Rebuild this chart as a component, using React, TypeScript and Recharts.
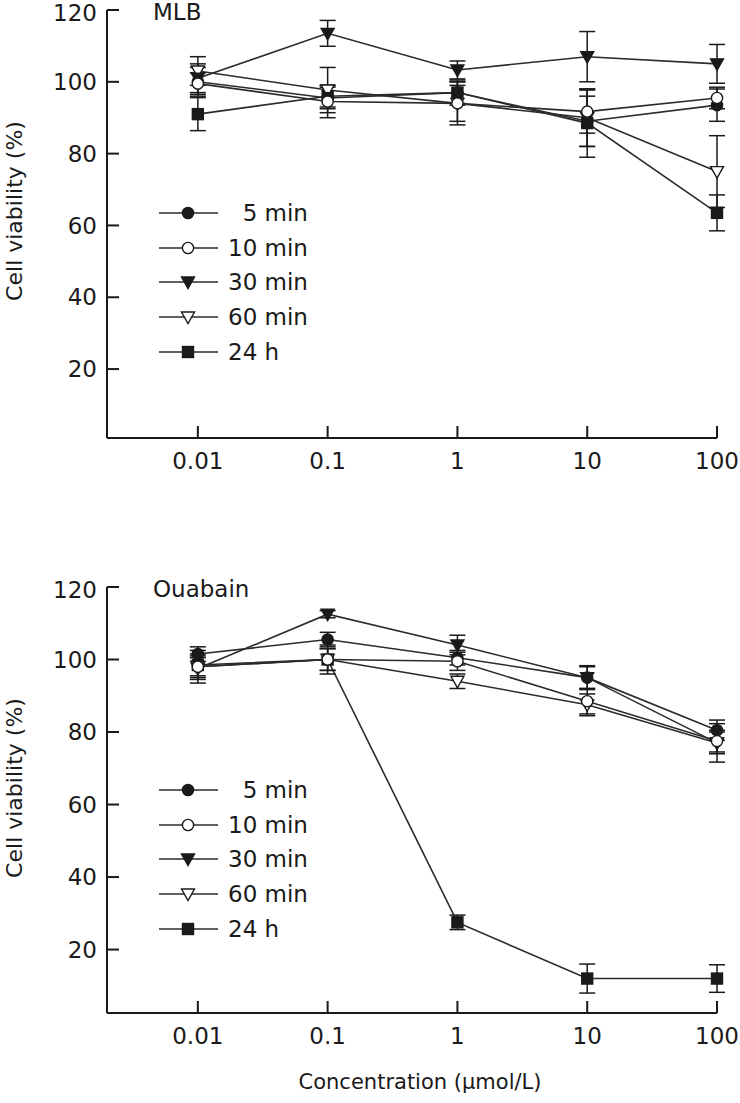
import React from "react";
import { LineChart, Line, XAxis, YAxis, ErrorBar, Legend } from "recharts";

const CONCENTRATIONS = [0.01, 0.1, 1, 10, 100];
const X_TICK_LABELS = ["0.01", "0.1", "1", "10", "100"];
const Y_TICKS = [20, 40, 60, 80, 100, 120];

// MLB panel
const MLB_5MIN = [100, 95.5, 97, 89, 93.5];
const MLB_5MIN_ERR = [4, 3, 3, 7, 4.5];
const MLB_10MIN = [99.5, 94.5, 94, 91.7, 95.5];
const MLB_10MIN_ERR = [3, 4.5, 6, 6, 3];
const MLB_30MIN = [101, 113.5, 103.3, 107, 105];
const MLB_30MIN_ERR = [4, 3.6, 2.5, 7, 5.4];
const MLB_60MIN = [103, 97.7, 94, 90, 75];
const MLB_60MIN_ERR = [4, 6.3, 5, 8, 10];
const MLB_24H = [91, 96, 97, 88.5, 63.5];
const MLB_24H_ERR = [4.6, 3, 3.5, 9.5, 5];

// Ouabain panel
const OUA_5MIN = [101.5, 105.5, 100.5, 95, 80.5];
const OUA_5MIN_ERR = [2, 2, 2, 3, 2.8];
const OUA_10MIN = [98, 100, 99.5, 88.5, 77.5];
const OUA_10MIN_ERR = [3, 3, 2.5, 3.5, 3];
const OUA_30MIN = [97.5, 112.5, 104, 95, 77];
const OUA_30MIN_ERR = [3, 1, 2.7, 3.3, 3];
const OUA_60MIN = [98, 100, 94, 87.5, 77];
const OUA_60MIN_ERR = [4.5, 4, 2, 3, 5.3];
const OUA_24H = [98.5, 100, 27.5, 12, 12];
const OUA_24H_ERR = [3, 3, 2, 4, 3.8];

const SERIES = [
  { key: "s5", label: "\u20075 min", marker: "circle" },
  { key: "s10", label: "10 min", marker: "ocircle" },
  { key: "s30", label: "30 min", marker: "tri" },
  { key: "s60", label: "60 min", marker: "otri" },
  { key: "s24", label: "24 h", marker: "square" },
];
const DRAW_ORDER = ["s24", "s60", "s30", "s5", "s10"];

const FONT = "'DejaVu Sans', sans-serif";
const INK = "#1a1a1a";
const LINE = "#2b2b2b";

function buildRows(vals: number[][], errs: number[][]) {
  return CONCENTRATIONS.map((c, i) => {
    const row: Record<string, number> = { lx: Math.log10(c) };
    SERIES.forEach((s, j) => {
      row[s.key] = vals[j][i];
      row["e" + s.key] = errs[j][i];
    });
    return row;
  });
}

const mlbData = buildRows(
  [MLB_5MIN, MLB_10MIN, MLB_30MIN, MLB_60MIN, MLB_24H],
  [MLB_5MIN_ERR, MLB_10MIN_ERR, MLB_30MIN_ERR, MLB_60MIN_ERR, MLB_24H_ERR]
);
const ouaData = buildRows(
  [OUA_5MIN, OUA_10MIN, OUA_30MIN, OUA_60MIN, OUA_24H],
  [OUA_5MIN_ERR, OUA_10MIN_ERR, OUA_30MIN_ERR, OUA_60MIN_ERR, OUA_24H_ERR]
);

function Marker({ kind, cx, cy }: { kind: string; cx: number; cy: number }) {
  if (cx == null || cy == null) return null;
  const sw = 1.4;
  switch (kind) {
    case "circle":
      return <circle cx={cx} cy={cy} r={5.6} fill={INK} stroke={INK} strokeWidth={sw} />;
    case "ocircle":
      return <circle cx={cx} cy={cy} r={5.6} fill="#fff" stroke={INK} strokeWidth={sw} />;
    case "tri":
    case "otri":
      return (
        <path
          d={`M${cx - 6.5},${cy - 5} L${cx + 6.5},${cy - 5} L${cx},${cy + 6.5} Z`}
          fill={kind === "tri" ? INK : "#fff"}
          stroke={INK}
          strokeWidth={sw}
          strokeLinejoin="miter"
        />
      );
    default:
      return <rect x={cx - 5.5} y={cy - 5.5} width={11} height={11} fill={INK} stroke={INK} strokeWidth={sw} />;
  }
}

function LegendBox() {
  return (
    <div style={{ fontFamily: FONT, fontSize: 23, color: INK }}>
      {SERIES.map((s) => (
        <div key={s.key} style={{ display: "flex", alignItems: "center", height: 34.6 }}>
          <svg width={60} height={20} style={{ display: "block" }}>
            <line x1={0} y1={10} x2={59} y2={10} stroke={LINE} strokeWidth={1.6} />
            <Marker kind={s.marker} cx={29} cy={10} />
          </svg>
          <span style={{ marginLeft: 9, whiteSpace: "pre" }}>{s.label}</span>
        </div>
      ))}
    </div>
  );
}

function Panel({
  data,
  title,
  domainMin,
  height,
  xAxisHeight,
  showXTitle,
}: {
  data: Record<string, number>[];
  title: string;
  domainMin: number;
  height: number;
  xAxisHeight: number;
  showXTitle: boolean;
}) {
  const tickStyle = { fontFamily: FONT, fontSize: 23, fill: INK };
  return (
    <div style={{ position: "relative", width: 740, height }}>
      <LineChart width={740} height={height} data={data} margin={{ top: 10, right: 23, left: 0, bottom: 0 }}>
        <XAxis
          dataKey="lx"
          type="number"
          domain={[-2.7, 2]}
          ticks={[-2, -1, 0, 1, 2]}
          tickFormatter={(v: number) => X_TICK_LABELS[Math.round(v) + 2]}
          height={xAxisHeight}
          stroke={INK}
          strokeWidth={2}
          tickSize={-12}
          tickMargin={27}
          tick={tickStyle}
          label={
            showXTitle
              ? {
                  value: "Concentration (\u00b5mol/L)",
                  position: "insideBottom",
                  offset: 14,
                  dx: 8,
                  style: { fontFamily: FONT, fontSize: 21, fill: INK },
                }
              : undefined
          }
        />
        <YAxis
          type="number"
          domain={[domainMin, 120]}
          ticks={Y_TICKS}
          width={107}
          stroke={INK}
          strokeWidth={2}
          tickSize={-12}
          tickMargin={22}
          tick={tickStyle}
        />
        <Legend
          layout="vertical"
          align="center"
          verticalAlign="middle"
          wrapperStyle={{ left: 159, top: 196, width: "auto" }}
          content={() => <LegendBox />}
        />
        {DRAW_ORDER.map((k) => {
          const s = SERIES.find((x) => x.key === k)!;
          return (
            <Line
              key={k}
              dataKey={k}
              name={s.label}
              stroke={LINE}
              strokeWidth={1.6}
              isAnimationActive={false}
              dot={(p: any) => <Marker key={`${k}-${p.index}`} kind={s.marker} cx={p.cx} cy={p.cy} />}
              activeDot={false}
            >
              <ErrorBar dataKey={"e" + k} direction="y" width={8} stroke={INK} strokeWidth={1.5} />
            </Line>
          );
        })}
      </LineChart>
      <div
        style={{
          position: "absolute",
          left: 153,
          top: 1,
          lineHeight: "23px",
          fontFamily: FONT,
          fontSize: 23,
          color: INK,
        }}
      >
        {title}
      </div>
      <div
        style={{
          position: "absolute",
          left: 14,
          top: 211,
          transform: "translate(-50%, -50%) rotate(-90deg)",
          whiteSpace: "nowrap",
          fontFamily: FONT,
          fontSize: 22,
          color: INK,
        }}
      >
        Cell viability (%)
      </div>
    </div>
  );
}

export default function App() {
  return (
    <div style={{ position: "absolute", left: 0, top: 0, width: 740, height: 1103, background: "#fff" }}>
      <div style={{ position: "absolute", left: 0, top: 0 }}>
        <Panel data={mlbData} title="MLB" domainMin={0.8} height={480} xAxisHeight={42} showXTitle={false} />
      </div>
      <div style={{ position: "absolute", left: 0, top: 577 }}>
        <Panel data={ouaData} title="Ouabain" domainMin={2.5} height={526} xAxisHeight={90} showXTitle={true} />
      </div>
    </div>
  );
}
